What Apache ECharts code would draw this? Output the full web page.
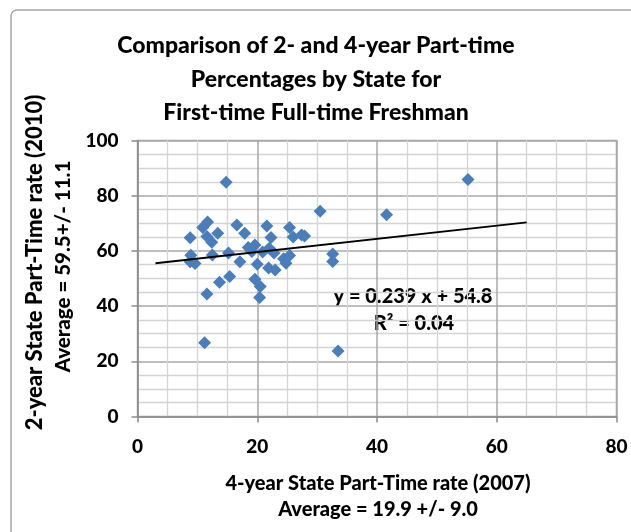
<!DOCTYPE html>
<html>
<head>
<meta charset="utf-8">
<script src="https://cdn.jsdelivr.net/npm/echarts@6/dist/echarts.min.js"></script>
<style>
  html, body { margin: 0; padding: 0; background: #fff; }
  #chart { width: 631px; height: 532px; }
</style>
</head>
<body>
<div id="chart"></div>
<script>
// 4-year rate (2007) and 2-year rate (2010) per state
var fourYear = [14.8, 30.5, 11.7, 10.9, 16.6, 21.6, 25.4, 8.8, 11.6, 13.4,
  12.4, 17.9, 22.3, 26.0, 27.4, 27.9, 8.9, 8.8, 9.6, 12.5,
  15.2, 17.1, 18.5, 19.1, 19.6, 20.0, 20.9, 22.0, 22.8, 21.9,
  23.0, 24.4, 24.8, 25.4, 32.6, 32.6, 13.7, 15.4, 19.6, 20.5,
  20.4, 11.6, 11.2, 33.5, 41.6, 55.2];
var twoYear = [84.9, 74.4, 70.5, 68.5, 69.4, 69.0, 68.5, 64.8, 65.2, 66.4,
  63.1, 66.4, 64.9, 65.0, 65.8, 65.4, 58.4, 56.1, 55.4, 58.5,
  59.2, 56.1, 61.2, 59.8, 62.1, 55.2, 59.6, 61.0, 59.2, 53.8,
  53.1, 57.2, 55.5, 58.3, 58.9, 56.2, 48.6, 50.7, 49.7, 47.1,
  43.1, 44.4, 26.7, 23.7, 73.1, 85.9];

// linear trend shown in the chart
var trendSlope = 0.239;
var trendIntercept = 54.8;
var trendFrom = 3;
var trendTo = 65;

var xTicks = [0, 20, 40, 60, 80];
var yTicks = [0, 20, 40, 60, 80, 100];

var titleLines = ['Comparison of 2- and 4-year Part-time', 'Percentages by State for', 'First-time Full-time Freshman'];
var xNameLines = ['4-year State Part-Time rate (2007)', 'Average = 19.9 +/- 9.0'];
var yNameLines = ['2-year State Part-Time rate (2010)', 'Average = 59.5+/- 11.1'];
var eqLines = ['y = 0.239 x + 54.8', 'R\u00b2 = 0.04'];

var points = fourYear.map(function (x, i) { return [x, twoYear[i]]; });
var trend = [trendFrom, trendTo].map(function (x) { return [x, trendSlope * x + trendIntercept]; });

var font = 'Lato, "Open Sans", sans-serif';
var chart = echarts.init(document.getElementById('chart'));

function axisBase(ticks) {
  return {
    type: 'value',
    min: ticks[0],
    max: ticks[ticks.length - 1],
    interval: ticks[1] - ticks[0],
    axisLine: { show: true, lineStyle: { color: '#8c8c8c', width: 1.5 } },
    axisTick: { show: true, length: 6, lineStyle: { color: '#8c8c8c', width: 1.5 } },
    splitLine: { show: true, lineStyle: { color: '#a8a8a8', width: 1.5 } },
    minorTick: { show: false, splitNumber: 4 },
    minorSplitLine: { show: true, lineStyle: { color: '#d4d4d4', width: 1.3 } },
    axisLabel: { color: '#000', fontFamily: font, fontWeight: 900, fontSize: 19 }
  };
}

var xAxis = axisBase(xTicks);
xAxis.axisLabel.margin = 21;
var yAxis = axisBase(yTicks);
yAxis.axisLabel.margin = 19;

function txt(x, y, s, size, rot) {
  return {
    type: 'text', x: x, y: y, rotation: rot || 0,
    style: {
      text: s, fill: '#000', font: '900 ' + size + 'px ' + font,
      textAlign: 'center', textVerticalAlign: 'middle'
    }
  };
}

chart.setOption({
  backgroundColor: '#fff',
  animation: false,
  grid: {
    left: 137.5, top: 140.5, width: 479, height: 276,
    show: true, borderColor: '#a8a8a8', borderWidth: 1.5
  },
  xAxis: xAxis,
  yAxis: yAxis,
  graphic: [
    { type: 'rect', shape: { x: 11, y: 10, width: 640, height: 560, r: 6 },
      style: { fill: 'none', stroke: '#a6a6a6', lineWidth: 1.5 }, silent: true },
    txt(316, 46, titleLines[0], 23),
    txt(316, 80, titleLines[1], 23),
    txt(316, 113, titleLines[2], 23),
    txt(378, 484, xNameLines[0], 20),
    txt(378, 510, xNameLines[1], 20),
    txt(34.5, 262.5, yNameLines[0], 22, Math.PI / 2),
    txt(63.5, 266.5, yNameLines[1], 20.5, Math.PI / 2),
    txt(413, 297, eqLines[0], 20),
    txt(414, 324, eqLines[1], 20)
  ],
  series: [
    {
      type: 'scatter',
      data: points,
      symbol: 'diamond',
      symbolSize: 13,
      itemStyle: { color: '#4a7ebb', opacity: 1 }
    },
    {
      type: 'line',
      data: trend,
      symbol: 'none',
      lineStyle: { color: '#000', width: 2 },
      z: 3
    }
  ]
});
</script>
</body>
</html>
